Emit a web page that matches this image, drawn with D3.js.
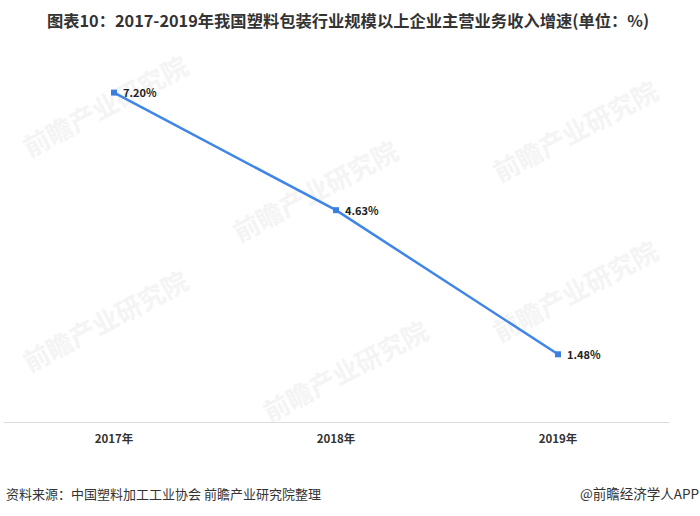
<!DOCTYPE html>
<html>
<head>
<meta charset="utf-8">
<script src="https://cdn.jsdelivr.net/npm/d3@7/dist/d3.min.js"></script>
<style>
  html, body { margin: 0; padding: 0; background: #fff; }
  svg { display: block; }
</style>
</head>
<body>
<svg id="chart" width="700" height="516"></svg>
<script>
const categories = ["2017年", "2018年", "2019年"];
const values = [7.20, 4.63, 1.48];
const valueLabels = ["7.20%", "4.63%", "1.48%"];
const titleText = "图表10：2017-2019年我国塑料包装行业规模以上企业主营业务收入增速(单位：%)";
const sourceText = "资料来源：中国塑料加工工业协会 前瞻产业研究院整理";
const brandText = "@前瞻经济学人APP";

const svg = d3.select("#chart");
const font = "'Noto Sans CJK SC', 'Noto Sans', sans-serif";

// faint watermarks
const wm = [[110, 115], [320, 200], [580, 140], [110, 330], [350, 380], [580, 300]];
svg.append("g").selectAll("text").data(wm).join("text")
  .attr("transform", d => `translate(${d[0]},${d[1]}) rotate(-28)`)
  .attr("text-anchor", "middle")
  .attr("font-family", font).attr("font-weight", "bold").attr("font-size", 26)
  .attr("fill", "#f4f4f4")
  .text("前瞻产业研究院");

const x = d3.scaleBand().domain(categories).range([3, 669]);
const y = d3.scaleLinear().domain([0, 8]).range([422, 56]);

// title
svg.append("text")
  .attr("x", 348).attr("y", 27)
  .attr("text-anchor", "middle")
  .attr("font-family", font).attr("font-weight", "bold").attr("font-size", 16.3)
  .attr("fill", "#333")
  .text(titleText);

// x axis
const xAxis = svg.append("g").attr("transform", "translate(0,422)")
  .call(d3.axisBottom(x).tickSize(0).tickPadding(13));
xAxis.select(".domain").attr("stroke", "#dcdcdc").attr("stroke-width", 1);
xAxis.selectAll("text")
  .attr("font-family", font).attr("font-weight", "bold").attr("font-size", 11.5)
  .attr("fill", "#333");

const cx = d => x(d) + x.bandwidth() / 2;

// line
const line = d3.line()
  .x((d, i) => cx(categories[i]))
  .y(d => y(d));
svg.append("path").datum(values)
  .attr("d", line)
  .attr("fill", "none")
  .attr("stroke", "#3f86e6")
  .attr("stroke-width", 2.5);

// markers
svg.append("g").selectAll("rect").data(values).join("rect")
  .attr("x", (d, i) => cx(categories[i]) - 3)
  .attr("y", d => y(d) - 3)
  .attr("width", 6).attr("height", 6)
  .attr("fill", "#3a7fe0");

// labels
svg.append("g").selectAll("text").data(values).join("text")
  .attr("x", (d, i) => cx(categories[i]) + 9)
  .attr("y", d => y(d) + 4.5)
  .attr("font-family", font).attr("font-weight", "bold").attr("font-size", 11)
  .attr("fill", "#222")
  .text((d, i) => valueLabels[i]);

// footer
svg.append("text")
  .attr("x", 6).attr("y", 499)
  .attr("font-family", font).attr("font-size", 13)
  .attr("fill", "#333")
  .text(sourceText);
svg.append("text")
  .attr("x", 699).attr("y", 499)
  .attr("text-anchor", "end")
  .attr("font-family", font).attr("font-size", 13.5)
  .attr("fill", "#333")
  .text(brandText);
</script>
</body>
</html>
